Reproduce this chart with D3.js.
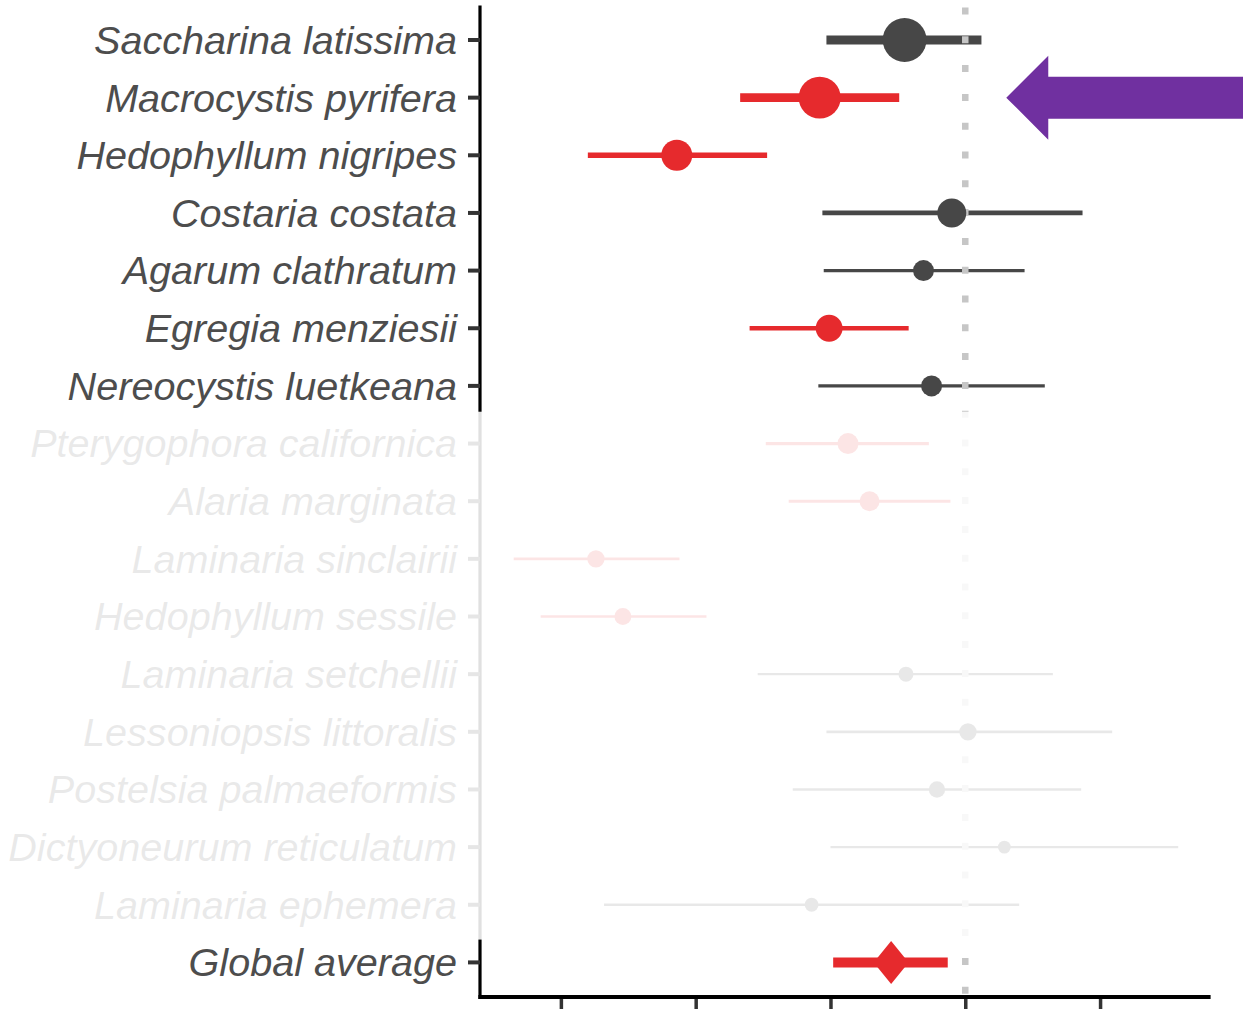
<!DOCTYPE html>
<html>
<head>
<meta charset="utf-8">
<script src="https://cdn.jsdelivr.net/npm/d3@7"></script>
<style>
  html, body { margin: 0; padding: 0; background: #ffffff; }
  svg { display: block; }
</style>
</head>
<body>
<svg id="chart" width="1243" height="1009"></svg>
<script>
// Per-species effect sizes (estimate with 95% interval) and relative weights
const species = [
  "Saccharina latissima", "Macrocystis pyrifera", "Hedophyllum nigripes",
  "Costaria costata", "Agarum clathratum", "Egregia menziesii",
  "Nereocystis luetkeana", "Pterygophora californica", "Alaria marginata",
  "Laminaria sinclairii", "Hedophyllum sessile", "Laminaria setchellii",
  "Lessoniopsis littoralis", "Postelsia palmaeformis", "Dictyoneurum reticulatum",
  "Laminaria ephemera"
];
const estimate = [-0.45, -1.08, -2.14, -0.10, -0.31, -1.01, -0.25, -0.87, -0.71, -2.74, -2.54, -0.44, 0.02, -0.21, 0.29, -1.14];
const lower    = [-1.03, -1.67, -2.80, -1.06, -1.05, -1.60, -1.09, -1.48, -1.31, -3.35, -3.15, -1.54, -1.03, -1.28, -1.00, -2.68];
const upper    = [ 0.12, -0.49, -1.47,  0.87,  0.44, -0.42,  0.59, -0.27, -0.11, -2.12, -1.92,  0.65,  1.09,  0.86,  1.58,  0.40];
const weight   = [4.8, 4.4, 2.4, 2.1, 1.1, 1.8, 1.1, 1.1, 1.0, 0.75, 0.72, 0.56, 0.75, 0.67, 0.41, 0.48];
// interval excludes zero -> drawn in red
const significant = [false, true, true, false, false, true, false, true, true, true, true, false, false, false, false, false];
// number of leading species shown at full strength
const emphasisCount = 7;

const globalLabel = "Global average";
const globalEstimate = -0.55;
const globalLower = -0.98;
const globalUpper = -0.13;

const xTicks = [-3, -2, -1, 0, 1];
const xDomain = [-3.6, 1.82];

const RED = "#e62a2d";
const GREY = "#474747";
const TEXT = "#4d4d4d";

const svg = d3.select("#chart");
const W = 1243, H = 1009;
const panel = { left: 480, right: 1210.6, top: 5.4, bottom: 997 };

const x = d3.scaleLinear().domain(xDomain).range([panel.left, panel.right]);
const rows = species.concat([globalLabel]);
const y = d3.scalePoint().domain(rows).range([panel.top, panel.bottom]).padding(0.6);

const radius = d3.scaleSqrt().domain([0, 1]).range([0, 10]);
const lineW = w => 1.5 + 1.6 * w;

const data = species.map((s, i) => ({
  name: s, est: estimate[i], lo: lower[i], hi: upper[i],
  w: weight[i], red: significant[i]
}));

const g = svg.append("g");

// interval lines
g.selectAll("line.ci").data(data).enter().append("line")
  .attr("class", "ci")
  .attr("x1", d => x(d.lo)).attr("x2", d => x(d.hi))
  .attr("y1", d => y(d.name)).attr("y2", d => y(d.name))
  .attr("stroke", d => d.red ? RED : GREY)
  .attr("stroke-width", d => lineW(d.w));

// global interval
g.append("line")
  .attr("x1", x(globalLower)).attr("x2", x(globalUpper))
  .attr("y1", y(globalLabel)).attr("y2", y(globalLabel))
  .attr("stroke", RED).attr("stroke-width", 10);

// zero reference line
g.append("line")
  .attr("x1", x(0)).attr("x2", x(0))
  .attr("y1", 7.5).attr("y2", panel.bottom)
  .attr("stroke", "#c6c6c6")
  .attr("stroke-width", 6.5)
  .attr("stroke-dasharray", "7 21.8");

// point estimates
g.selectAll("circle.pt").data(data).enter().append("circle")
  .attr("class", "pt")
  .attr("cx", d => x(d.est)).attr("cy", d => y(d.name))
  .attr("r", d => radius(d.w))
  .attr("fill", d => d.red ? RED : GREY);

// global diamond
const gx = x(globalEstimate), gy = y(globalLabel);
g.append("path")
  .attr("d", `M${gx},${gy - 21.5}L${gx + 17.5},${gy}L${gx},${gy + 21.5}L${gx - 17.5},${gy}Z`)
  .attr("fill", RED);

// y axis: line, ticks, italic species labels
g.append("line")
  .attr("x1", panel.left).attr("x2", panel.left)
  .attr("y1", panel.top).attr("y2", panel.bottom + 2)
  .attr("stroke", "#000").attr("stroke-width", 3.2);

const yTicks = g.selectAll("g.ytick").data(rows).enter().append("g")
  .attr("class", "ytick")
  .attr("transform", d => `translate(0,${y(d)})`);
yTicks.append("line")
  .attr("x1", panel.left - 12).attr("x2", panel.left)
  .attr("stroke", "#333").attr("stroke-width", 4);
yTicks.append("text")
  .attr("x", panel.left - 23)
  .attr("dy", "0.35em")
  .attr("text-anchor", "end")
  .attr("font-family", "'Liberation Sans', Arial, Helvetica, sans-serif")
  .attr("font-style", "italic")
  .attr("font-size", 39.6)
  .attr("fill", TEXT)
  .text(d => d);

// x axis
const xAxis = d3.axisBottom(x).tickValues(xTicks).tickSize(16).tickFormat("");
const xg = g.append("g").attr("transform", `translate(0,${panel.bottom})`).call(xAxis);
xg.select(".domain").remove();
xg.selectAll(".tick line").attr("stroke", "#333").attr("stroke-width", 3.5);
g.append("line")
  .attr("x1", panel.left - 1.6).attr("x2", panel.right)
  .attr("y1", panel.bottom).attr("y2", panel.bottom)
  .attr("stroke", "#000").attr("stroke-width", 4);

// de-emphasis veil over the remaining species
const step = y.step();
const veilTop = y(species[emphasisCount - 1]) + step / 2 - 3;
const veilBottom = y(globalLabel) - step / 2 + 6;
svg.append("rect")
  .attr("x", 0).attr("y", veilTop)
  .attr("width", W).attr("height", veilBottom - veilTop)
  .attr("fill", "#fff").attr("opacity", 0.88);

// highlight arrow pointing at Macrocystis pyrifera
const ay = y("Macrocystis pyrifera");
const tipX = x(0) + 41;
const headX = tipX + 42, headH = 42, shaftH = 21;
svg.append("path")
  .attr("d", `M${tipX},${ay}L${headX},${ay - headH}L${headX},${ay - shaftH}L${W},${ay - shaftH}` +
             `L${W},${ay + shaftH}L${headX},${ay + shaftH}L${headX},${ay + headH}Z`)
  .attr("fill", "#7030a0");
</script>
</body>
</html>
